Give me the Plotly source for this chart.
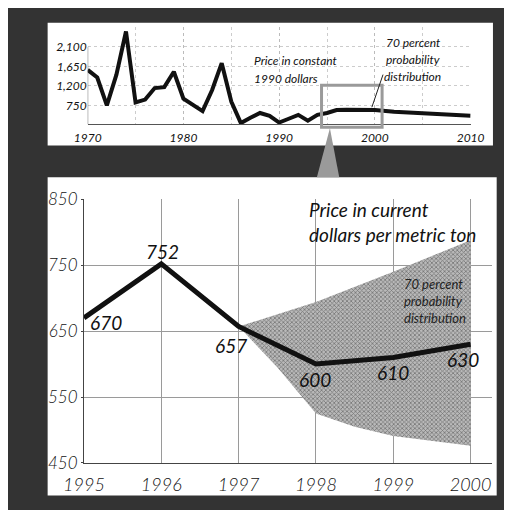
import plotly.graph_objs as go

# prix en dollars constants 1990 (petit graphique du haut)
const_years = [1970, 1971, 1972, 1973, 1974, 1975, 1976, 1977, 1978, 1979,
               1980, 1981, 1982, 1983, 1984, 1985, 1986, 1987, 1988, 1989,
               1990, 1991, 1992, 1993, 1994, 1995, 1996, 1997, 1998, 1999,
               2000, 2002, 2004, 2006, 2008, 2010]
const_price = [1568, 1392, 750, 1458, 2453, 816, 883, 1148, 1170, 1524,
               905, 772, 617, 1104, 1723, 838, 340, 462, 573, 507,
               352, 440, 529, 396, 529, 573, 640, 650, 648, 645,
               640, 600, 575, 545, 525, 507]
top_yticks = [750, 1200, 1650, 2100]
top_yticktext = ['750', '1,200', '1,650', '2,100']
top_xticks = [1970, 1980, 1990, 2000, 2010]

# prix en dollars courants par tonne (graphique principal)
years = [1995, 1996, 1997, 1998, 1999, 2000]
price = [670, 752, 657, 600, 610, 630]

# bande de probabilite a 70 %
band_upper_x = [1997, 1998, 1999, 2000]
band_upper = [657, 694, 740, 788]
band_lower_x = [1997, 1997.5, 1998, 1998.5, 1999, 2000]
band_lower = [657, 595, 525, 505, 491, 476]

W, H = 512, 510
FONT = 'Lato'


def px(x):
    return x / W


def py(y):
    return 1 - y / H


fig = go.Figure()

# bande grise
fig.add_trace(go.Scatter(
    x=band_upper_x + band_lower_x[::-1],
    y=band_upper + band_lower[::-1],
    fill='toself', mode='none',
    fillcolor='#a8a8a8',
    fillpattern=dict(shape='x', bgcolor='#b9b9b9', fgcolor='#767676',
                     size=3, solidity=0.45, fillmode='replace'),
    xaxis='x', yaxis='y', hoverinfo='skip'
))
fig.add_trace(go.Scatter(
    x=years, y=price, mode='lines',
    line=dict(color='#111111', width=5),
    xaxis='x', yaxis='y'
))
fig.add_trace(go.Scatter(
    x=const_years, y=const_price, mode='lines',
    line=dict(color='#111111', width=4),
    xaxis='x2', yaxis='y2'
))

# etiquettes des valeurs
offsets = [(22, -5), (1, 12), (-8, -19), (-1, -15), (0, -15), (-8, -15)]
for yr, val, (dx, dy) in zip(years, price, offsets):
    fig.add_annotation(x=yr, y=val, xref='x', yref='y', text=str(val),
                       showarrow=False, xshift=dx, yshift=dy,
                       font=dict(family=FONT, size=19, color='#111', style='italic'))

fig.add_annotation(x=px(298), y=py(212), xref='paper', yref='paper',
                   text='Price in current<br>dollars per metric ton',
                   showarrow=False, xanchor='left', yanchor='middle', align='left',
                   font=dict(family=FONT, size=19, color='#111', style='italic'))
fig.add_annotation(x=px(400), y=py(294), xref='paper', yref='paper',
                   text='70 percent<br>probability<br>distribution',
                   showarrow=False, xanchor='left', yanchor='middle', align='left',
                   font=dict(family=FONT, size=13, color='#222', style='italic'))

# textes du graphique du haut
for txt, x, y, anchor in [('Price in constant', 239, 43, 'left'),
                          ('1990 dollars', 239, 62, 'left'),
                          ('70 percent', 413, 25, 'center'),
                          ('probability', 412, 42, 'center'),
                          ('distribution', 412, 60, 'center')]:
    fig.add_annotation(x=px(x), y=py(y), xref='paper', yref='paper', text=txt,
                       showarrow=False, xanchor=anchor, yanchor='middle',
                       font=dict(family=FONT, size=12, color='#111', style='italic'))

shapes = [
    # panneaux blancs
    dict(type='rect', xref='paper', yref='paper', x0=px(20), x1=px(502),
         y0=py(497), y1=py(165), fillcolor='white', line_width=0, layer='below'),
    dict(type='rect', xref='paper', yref='paper', x0=px(20), x1=px(498),
         y0=py(132), y1=py(4), fillcolor='white', line_width=0, layer='below'),
    # cadre de zoom et fleche
    dict(type='rect', xref='paper', yref='paper', x0=px(314), x1=px(379),
         y0=py(113), y1=py(69), line=dict(color='#9a9a9a', width=3)),
    dict(type='path', xref='paper', yref='paper',
         path=f'M {px(323)} {py(114)} L {px(309)} {py(165)} L {px(333)} {py(165)} Z',
         fillcolor='#9a9a9a', line_width=0),
    dict(type='line', xref='paper', yref='paper', x0=px(380), x1=px(368),
         y0=py(58), y1=py(92), line=dict(color='#222', width=1)),
]

fig.update_layout(
    width=W, height=H, margin=dict(l=0, r=0, t=0, b=0),
    paper_bgcolor='#333333', plot_bgcolor='rgba(0,0,0,0)',
    showlegend=False, shapes=shapes,
    xaxis=dict(domain=[px(59), px(497)], range=[1995, 2000 + 23 / 83],
               tickvals=years, showgrid=True, gridcolor='#9a9a9a', gridwidth=1,
               showline=True, linecolor='#444', linewidth=1, zeroline=False,
               ticklabelstandoff=5,
               tickfont=dict(family=FONT, size=18, color='#111', style='italic', weight=300)),
    yaxis=dict(domain=[py(463), py(188)], range=[450, 850],
               tickvals=[450, 550, 650, 750, 850], showgrid=True,
               gridcolor='#9a9a9a', gridwidth=1, showline=True, linecolor='#444',
               ticks='outside', ticklen=2, tickcolor='#444', zeroline=False,
               ticklabelstandoff=0,
               tickfont=dict(family=FONT, size=17, color='#111', style='italic', weight=300)),
    xaxis2=dict(domain=[px(63), px(474)], range=[1970, 2010], anchor='y2',
                tickvals=top_xticks, showgrid=True, gridcolor='#bbbbbb',
                griddash='dot', showline=True, linecolor='#555', zeroline=False,
                minor=dict(dtick=5, showgrid=True, gridcolor='#cccccc', griddash='dot'),
                ticklabelstandoff=2,
                tickfont=dict(family=FONT, size=12, color='#111', style='italic')),
    yaxis2=dict(domain=[py(110), py(8)], range=[308, 2565], anchor='x2',
                tickvals=top_yticks, ticktext=top_yticktext, showgrid=True,
                gridcolor='#cccccc', griddash='dot', zeroline=False,
                tickfont=dict(family=FONT, size=12, color='#111', style='italic')),
)
fig.add_shape(type='line', xref='x2', yref='y2', x0=1970, x1=1970, y0=308, y1=2100,
              line=dict(color='#666', width=1))

fig.write_html('out.html')
